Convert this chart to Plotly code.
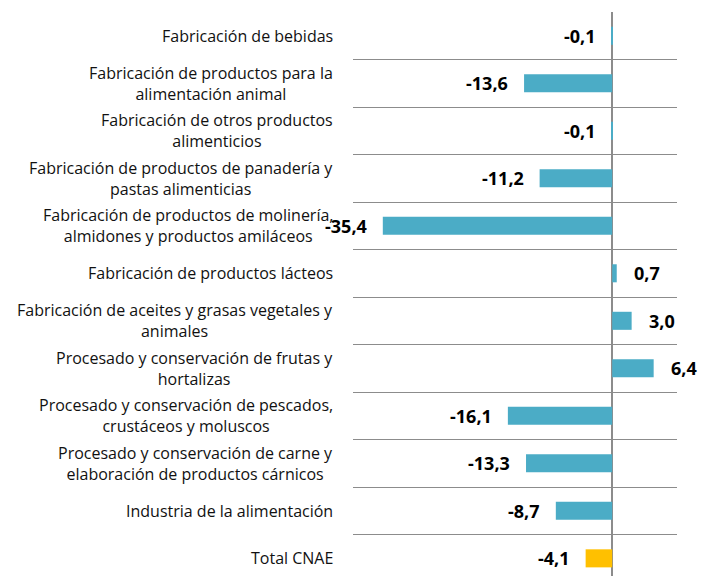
import plotly.graph_objects as go

categories = [
    "Fabricación de bebidas",
    "Fabricación de productos para la<br>alimentación animal",
    "Fabricación de otros productos<br>alimenticios",
    "Fabricación de productos de panadería y<br>pastas alimenticias",
    "Fabricación de productos de molinería,<br>almidones y productos amiláceos",
    "Fabricación de productos lácteos",
    "Fabricación de aceites y grasas vegetales y<br>animales",
    "Procesado y conservación de frutas y<br>hortalizas",
    "Procesado y conservación de pescados,<br>crustáceos y moluscos",
    "Procesado y conservación de carne y<br>elaboración de productos cárnicos",
    "Industria de la alimentación",
    "Total CNAE",
]
values = [-0.1, -13.6, -0.1, -11.2, -35.4, 0.7, 3.0, 6.4, -16.1, -13.3, -8.7, -4.1]
colors = ["#4BACC6"] * 11 + ["#FFC000"]

ids = list(range(len(categories)))

fig = go.Figure()
fig.add_trace(go.Bar(
    x=values, y=ids, orientation="h",
    marker=dict(color=colors, line=dict(width=0)),
    width=0.38,
    hoverinfo="skip",
))

annotations = []
for i, (c, v) in enumerate(zip(categories, values)):
    annotations.append(dict(
        x=0, xref="paper", y=i, yref="y", text=c,
        xanchor="right", yanchor="middle", align="center", xshift=-18,
        showarrow=False, font=dict(family="Open Sans", size=16, color="#111111"),
    ))
    annotations.append(dict(
        x=v, xref="x", y=i, yref="y", text=f"{v:.1f}".replace(".", ","),
        xanchor="right" if v < 0 else "left", yanchor="middle",
        xshift=-14 if v < 0 else 15,
        showarrow=False, font=dict(family="Open Sans", size=18, color="#000000", weight="bold"),
    ))

fig.update_layout(
    width=713, height=576,
    margin=dict(l=345, r=44, t=4, b=0),
    paper_bgcolor="white", plot_bgcolor="white",
    showlegend=False,
    annotations=annotations,
    shapes=[dict(type="line", xref="paper", yref="paper",
                 x0=1.0895, x1=1.0895, y0=-0.05, y1=1.05,
                 line=dict(color="#a6a6a6", width=1.5))],
    xaxis=dict(range=[-40, 10], showgrid=False, showticklabels=False,
               zeroline=True, zerolinecolor="#8c8c8c", zerolinewidth=2,
               ticks="", showline=False),
    yaxis=dict(range=[11.54, -0.5], tickmode="array",
               tickvals=[k - 0.5 for k in range(len(categories) + 1)],
               ticktext=[""] * (len(categories) + 1),
               showgrid=True, gridcolor="#8c8c8c", gridwidth=1.2,
               zeroline=False, ticks="", showline=False),
)

fig.write_html("out.html")
